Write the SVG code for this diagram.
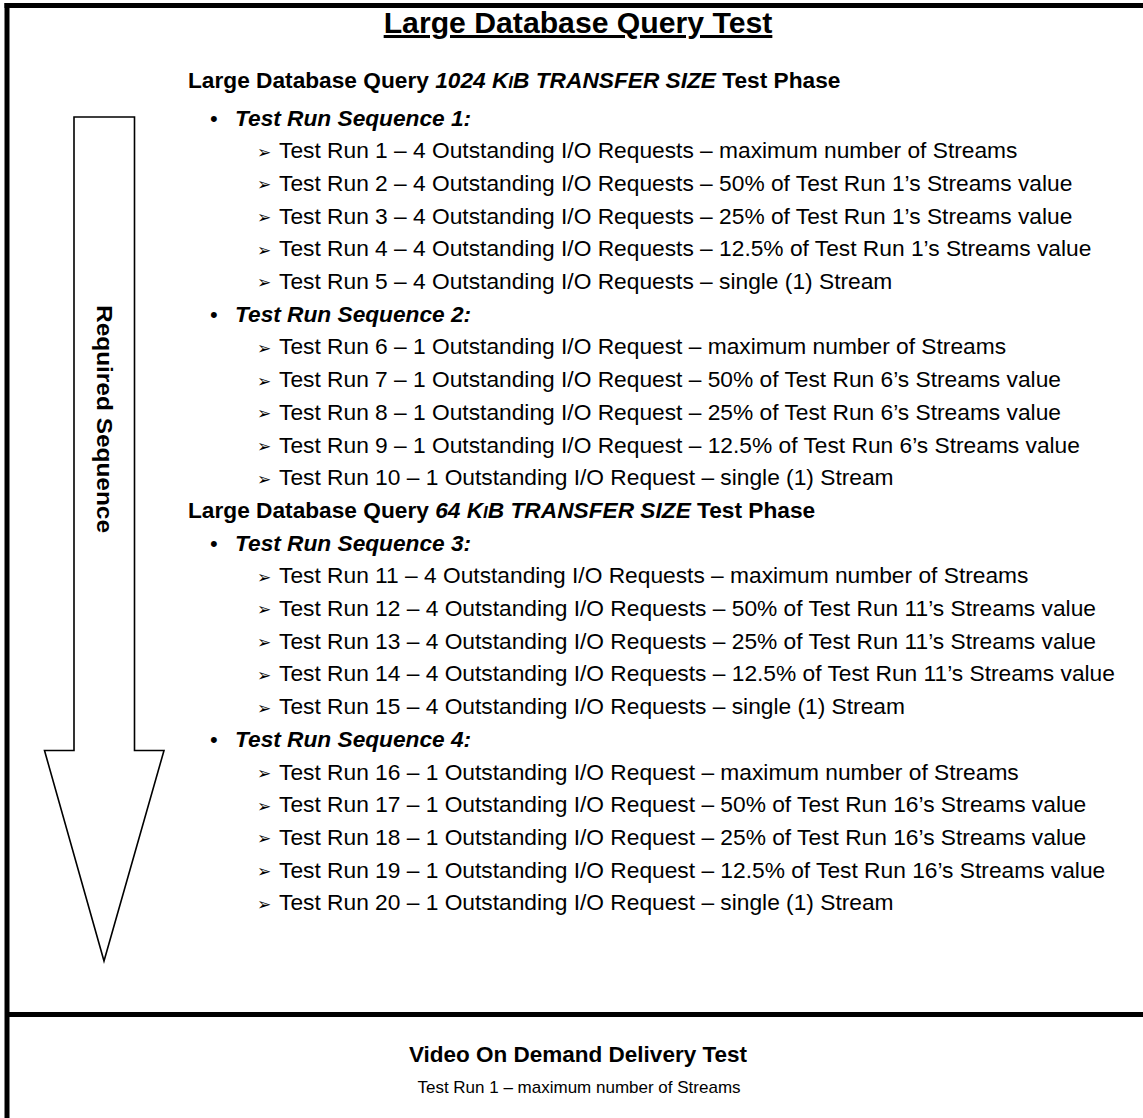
<svg xmlns="http://www.w3.org/2000/svg" width="1143" height="1118" viewBox="0 0 1143 1118">
<style>
text{font-family:"Liberation Sans",Arial,sans-serif;fill:#000}
.title{font-size:30.2px;font-weight:bold;text-anchor:middle;text-decoration:underline}
.sub{font-size:22.7px;font-weight:bold}
.seq{font-size:22.7px;font-weight:bold;font-style:italic}
.item{font-size:22.75px}
.mark{font-family:"DejaVu Sans",sans-serif;font-size:17px}
.dot{font-size:22px}
.frame{stroke:#000;stroke-width:5;fill:none}
.vtitle{font-size:22.5px;font-weight:bold;text-anchor:middle}
.vline{font-size:17px;text-anchor:middle}
.side{font-size:22px;font-weight:bold;text-anchor:middle}
</style>
<rect x="0" y="0" width="1143" height="1118" fill="#fff"/>
<g id="frame">
<line class="frame" x1="4.5" y1="5.5" x2="1143" y2="5.5"/>
<line class="frame" x1="7" y1="3" x2="7" y2="1118"/>
<line class="frame" x1="7" y1="1014.5" x2="1143" y2="1014.5"/>
</g>
<g id="sequence-arrow">
<polygon points="74,117 134.5,117 134.5,750.5 164,750.5 104,961 44.5,750.5 74,750.5" fill="#fff" stroke="#000" stroke-width="1.6" stroke-linejoin="miter"/>
<text class="side" transform="translate(97,419) rotate(90)" textLength="228" lengthAdjust="spacingAndGlyphs">Required Sequence</text>
</g>
<g id="connectors"></g>
<g id="large-db-query-test">
<text class="title" x="578" y="33">Large Database Query Test</text>
<g id="phase-1024">
<text class="sub" x="188" y="88">Large Database Query <tspan font-style="italic">1024 K<tspan font-size="17px">I</tspan>B TRANSFER SIZE</tspan> Test Phase</text>
<g id="seq1">
<text class="dot" x="210" y="126">•</text><text class="seq" x="235" y="126">Test Run Sequence 1:</text>
<text class="mark" x="257" y="157.6">➢</text><text class="item" x="279" y="158.2">Test Run 1 – 4 Outstanding I/O Requests – maximum number of Streams</text>
<text class="mark" x="257" y="190.3">➢</text><text class="item" x="279" y="190.9">Test Run 2 – 4 Outstanding I/O Requests – 50% of Test Run 1’s Streams value</text>
<text class="mark" x="257" y="223">➢</text><text class="item" x="279" y="223.6">Test Run 3 – 4 Outstanding I/O Requests – 25% of Test Run 1’s Streams value</text>
<text class="mark" x="257" y="255.7">➢</text><text class="item" x="279" y="256.3">Test Run 4 – 4 Outstanding I/O Requests – 12.5% of Test Run 1’s Streams value</text>
<text class="mark" x="257" y="288.4">➢</text><text class="item" x="279" y="289">Test Run 5 – 4 Outstanding I/O Requests – single (1) Stream</text>
</g>
<g id="seq2">
<text class="dot" x="210" y="322">•</text><text class="seq" x="235" y="322">Test Run Sequence 2:</text>
<text class="mark" x="257" y="353.8">➢</text><text class="item" x="279" y="354.4">Test Run 6 – 1 Outstanding I/O Request – maximum number of Streams</text>
<text class="mark" x="257" y="386.5">➢</text><text class="item" x="279" y="387.1">Test Run 7 – 1 Outstanding I/O Request – 50% of Test Run 6’s Streams value</text>
<text class="mark" x="257" y="419.2">➢</text><text class="item" x="279" y="419.8">Test Run 8 – 1 Outstanding I/O Request – 25% of Test Run 6’s Streams value</text>
<text class="mark" x="257" y="451.9">➢</text><text class="item" x="279" y="452.5">Test Run 9 – 1 Outstanding I/O Request – 12.5% of Test Run 6’s Streams value</text>
<text class="mark" x="257" y="484.6">➢</text><text class="item" x="279" y="485.2">Test Run 10 – 1 Outstanding I/O Request – single (1) Stream</text>
</g>
</g>
<g id="phase-64">
<text class="sub" x="188" y="518.4">Large Database Query <tspan font-style="italic">64 K<tspan font-size="17px">I</tspan>B TRANSFER SIZE</tspan> Test Phase</text>
<g id="seq3">
<text class="dot" x="210" y="551">•</text><text class="seq" x="235" y="551">Test Run Sequence 3:</text>
<text class="mark" x="257" y="582.7">➢</text><text class="item" x="279" y="583.3">Test Run 11 – 4 Outstanding I/O Requests – maximum number of Streams</text>
<text class="mark" x="257" y="615.4">➢</text><text class="item" x="279" y="616">Test Run 12 – 4 Outstanding I/O Requests – 50% of Test Run 11’s Streams value</text>
<text class="mark" x="257" y="648.1">➢</text><text class="item" x="279" y="648.7">Test Run 13 – 4 Outstanding I/O Requests – 25% of Test Run 11’s Streams value</text>
<text class="mark" x="257" y="680.8">➢</text><text class="item" x="279" y="681.4">Test Run 14 – 4 Outstanding I/O Requests – 12.5% of Test Run 11’s Streams value</text>
<text class="mark" x="257" y="713.5">➢</text><text class="item" x="279" y="714.1">Test Run 15 – 4 Outstanding I/O Requests – single (1) Stream</text>
</g>
<g id="seq4">
<text class="dot" x="210" y="747">•</text><text class="seq" x="235" y="747">Test Run Sequence 4:</text>
<text class="mark" x="257" y="778.9">➢</text><text class="item" x="279" y="779.5">Test Run 16 – 1 Outstanding I/O Request – maximum number of Streams</text>
<text class="mark" x="257" y="811.6">➢</text><text class="item" x="279" y="812.2">Test Run 17 – 1 Outstanding I/O Request – 50% of Test Run 16’s Streams value</text>
<text class="mark" x="257" y="844.3">➢</text><text class="item" x="279" y="844.9">Test Run 18 – 1 Outstanding I/O Request – 25% of Test Run 16’s Streams value</text>
<text class="mark" x="257" y="877">➢</text><text class="item" x="279" y="877.6">Test Run 19 – 1 Outstanding I/O Request – 12.5% of Test Run 16’s Streams value</text>
<text class="mark" x="257" y="909.7">➢</text><text class="item" x="279" y="910.3">Test Run 20 – 1 Outstanding I/O Request – single (1) Stream</text>
</g>
</g>
</g>
<g id="vod-test">
<text class="vtitle" x="578" y="1062">Video On Demand Delivery Test</text>
<text class="vline" x="579" y="1093">Test Run 1 – maximum number of Streams</text>
</g>
</svg>
